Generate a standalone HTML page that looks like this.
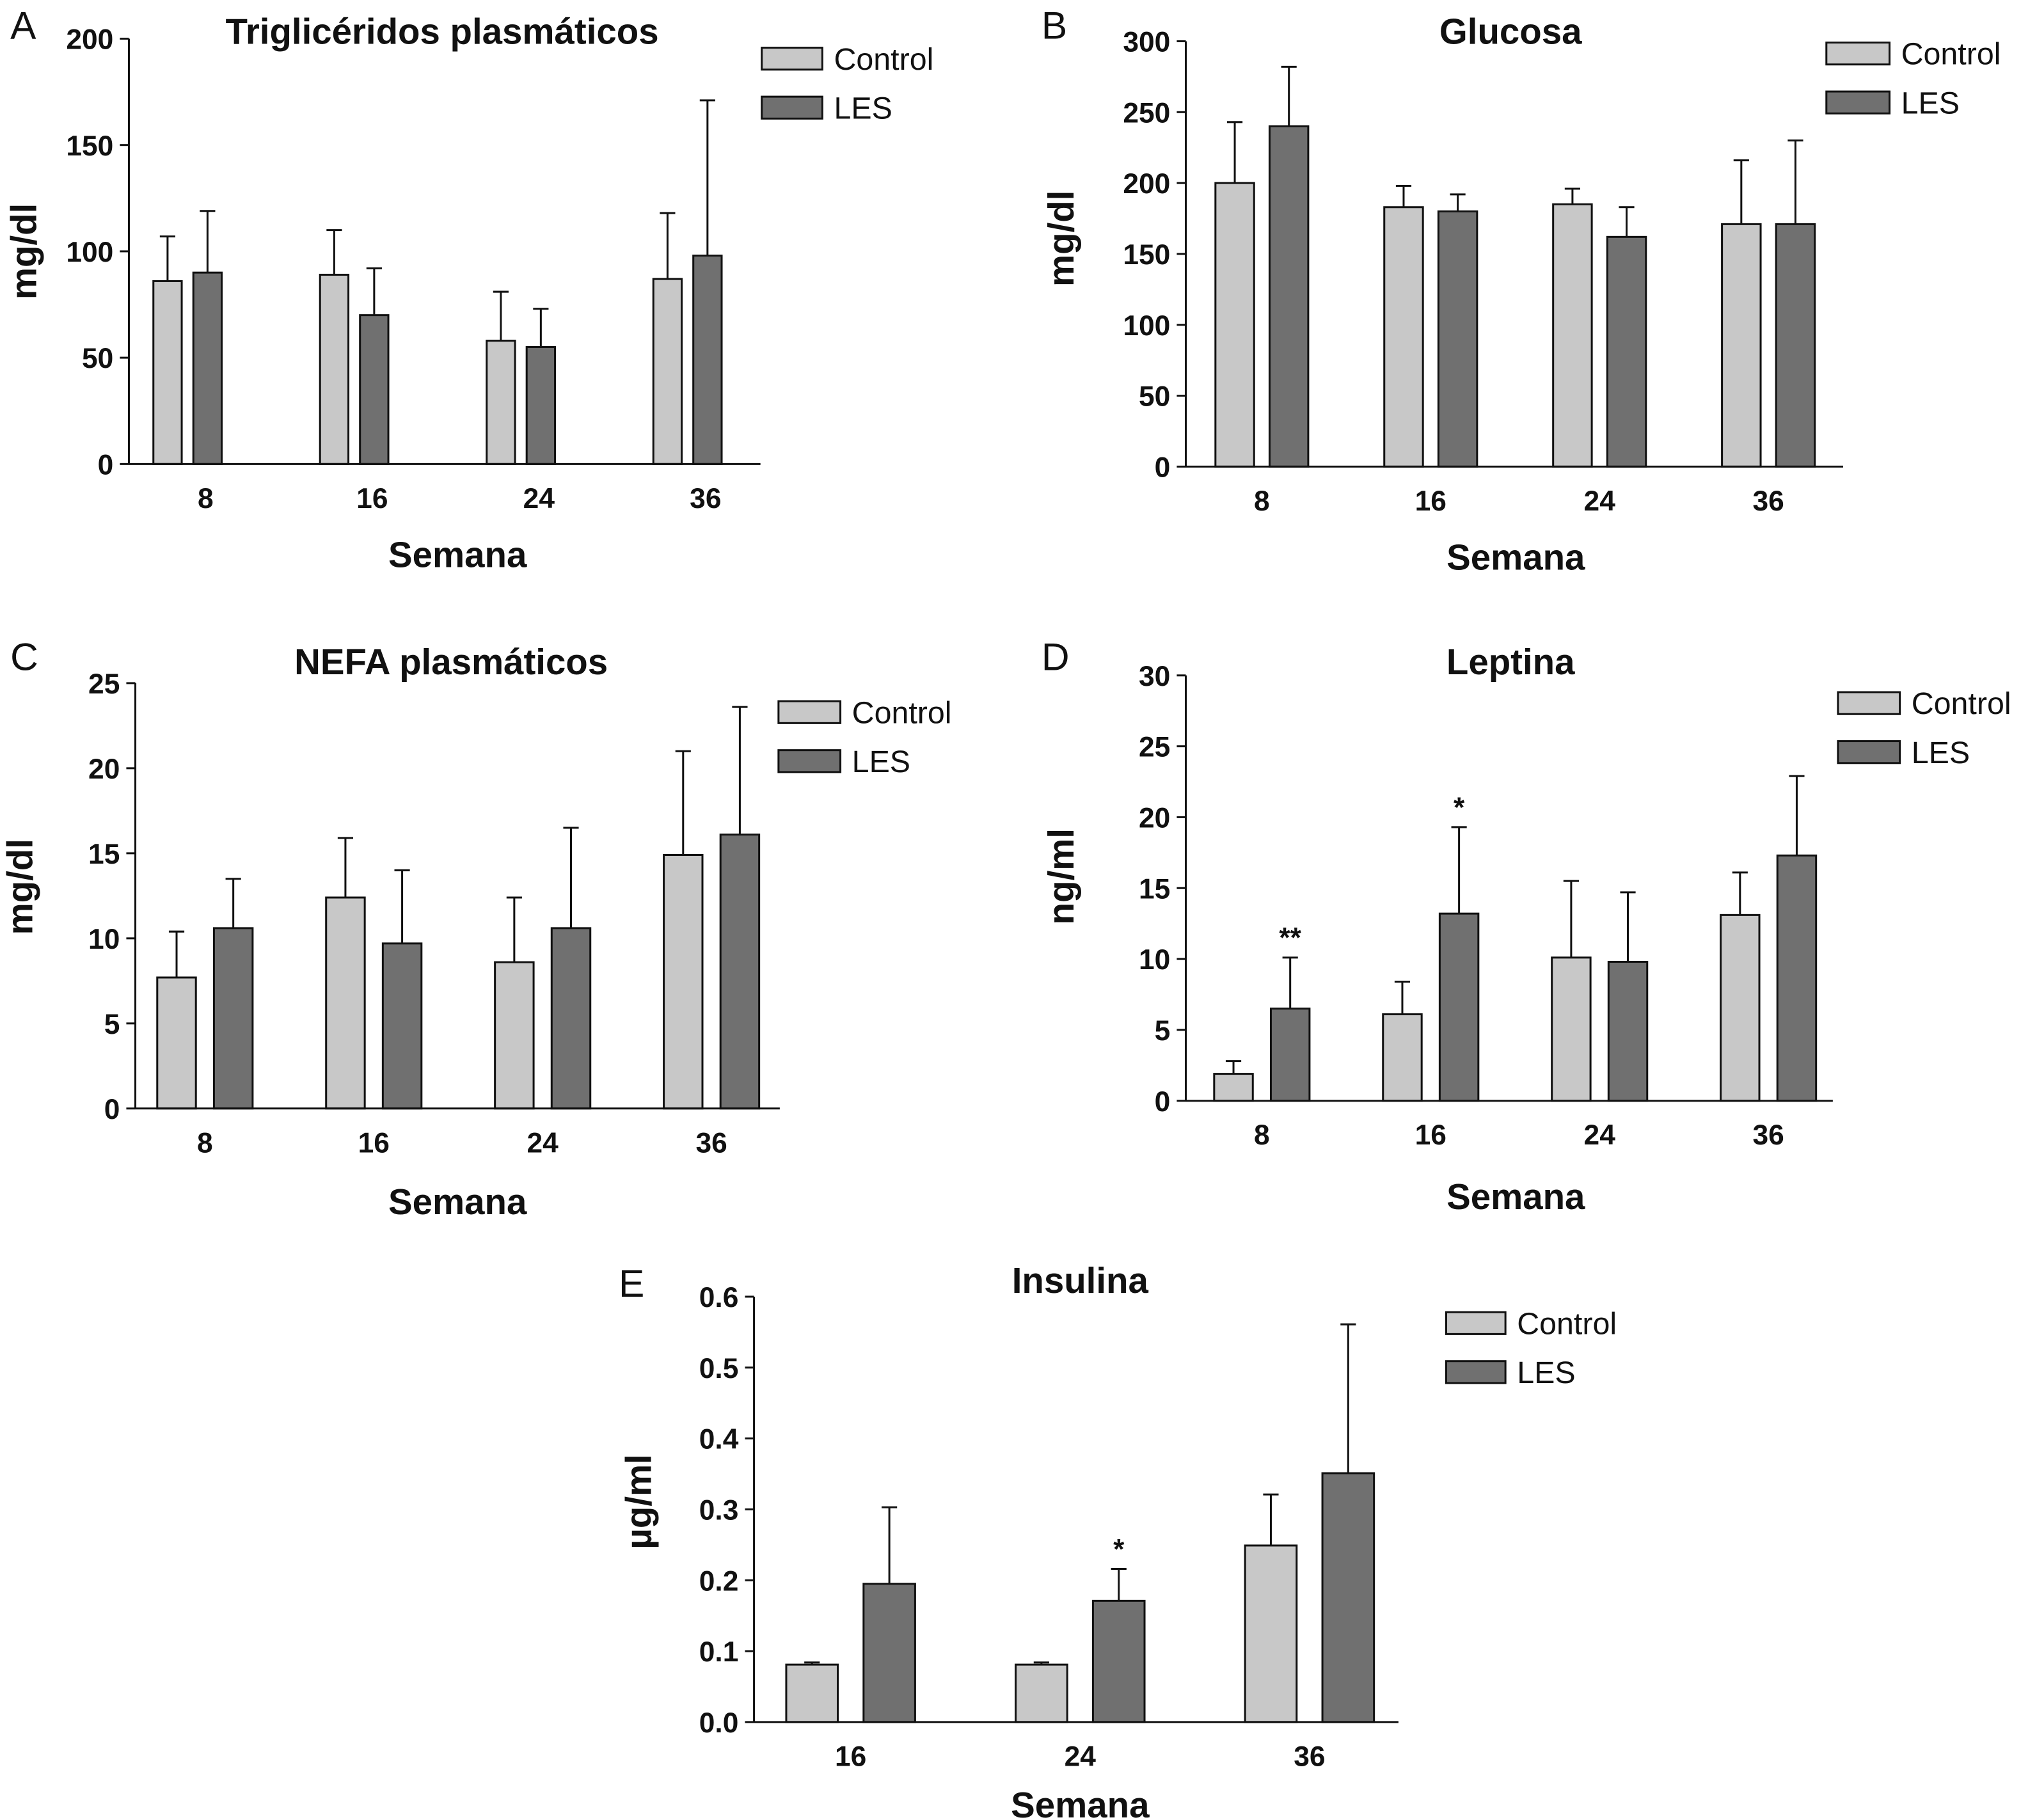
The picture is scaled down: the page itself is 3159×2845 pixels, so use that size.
<!DOCTYPE html>
<html><head><meta charset="utf-8"><style>
html,body{margin:0;padding:0;background:#fff}
svg{display:block}
text{font-family:"Liberation Sans",Arial,sans-serif;fill:#111}
</style></head><body>
<svg id="fig" width="3159" height="2845" viewBox="0 0 1568 1412" preserveAspectRatio="none" xmlns="http://www.w3.org/2000/svg"></svg>
<script>
// Panel A data
const aCategories = ["8","16","24","36"];
const aControl = [86, 89, 58, 87];
const aControlErr = [21, 21, 23, 31];
const aLes = [90, 70, 55, 98];
const aLesErr = [29, 22, 18, 73];
const aTicks = [0,50,100,150,200];
// Panel B data
const bCategories = ["8","16","24","36"];
const bControl = [200, 183, 185, 171];
const bControlErr = [43, 15, 11, 45];
const bLes = [240, 180, 162, 171];
const bLesErr = [42, 12, 21, 59];
const bTicks = [0,50,100,150,200,250,300];
// Panel C data
const cCategories = ["8","16","24","36"];
const cControl = [7.7, 12.4, 8.6, 14.9];
const cControlErr = [2.7, 3.5, 3.8, 6.1];
const cLes = [10.6, 9.7, 10.6, 16.1];
const cLesErr = [2.9, 4.3, 5.9, 7.5];
const cTicks = [0,5,10,15,20,25];
// Panel D data
const dCategories = ["8","16","24","36"];
const dControl = [1.9, 6.1, 10.1, 13.1];
const dControlErr = [0.9, 2.3, 5.4, 3.0];
const dLes = [6.5, 13.2, 9.8, 17.3];
const dLesErr = [3.6, 6.1, 4.9, 5.6];
const dStars = ["**","*","",""];
const dTicks = [0,5,10,15,20,25,30];
// Panel E data
const eCategories = ["16","24","36"];
const eControl = [0.081, 0.081, 0.249];
const eControlErr = [0.003, 0.003, 0.072];
const eLes = [0.195, 0.171, 0.351];
const eLesErr = [0.108, 0.045, 0.21];
const eStars = ["","*",""];
const eTicks = [0,0.1,0.2,0.3,0.4,0.5,0.6];

const NS="http://www.w3.org/2000/svg";
const svg=document.getElementById('fig');
function mk(tag,attrs,parent){const e=document.createElementNS(NS,tag);for(const k in attrs)e.setAttribute(k,attrs[k]);(parent||svg).appendChild(e);return e;}
function txt(s,x,y,size,weight,anchor,parent,rot){const t=mk('text',{x:x,y:y,'font-size':size,'font-weight':weight,'text-anchor':anchor||'middle'},parent);if(rot)t.setAttribute('transform','rotate(-90 '+x+' '+y+')');t.textContent=s;return t;}

function panel(o){
  const g=mk('g',{});
  
  
  const ymax=o.ticks[o.ticks.length-1];
  const Y=v=>o.y0-(v/ymax)*(o.y0-o.yTop);
  const X=i=>o.c0+i*o.step;
  o.cats.forEach((c,i)=>{
    [[o.ctrl,o.ctrlErr,'#c8c8c8',-1,'control'],[o.les,o.lesErr,'#707070',1,'les']].forEach(s=>{
      const v=s[0][i],e=s[1][i];
      const cx=X(i)+s[3]*o.off;
      const x=cx-o.bw/2, yt=Y(v);
      const ln=mk('line',{x1:cx,x2:cx,y1:yt,y2:Y(v+e),stroke:'#111','stroke-width':1.5},g);
      
      
      const cap=mk('line',{x1:cx-6,x2:cx+6,y1:Y(v+e),y2:Y(v+e),stroke:'#111','stroke-width':1.5},g);
      
      
      const r=mk('rect',{x:x,y:yt,width:o.bw,height:o.y0-yt,fill:s[2],stroke:'#111','stroke-width':1.5},g);
      
      
    });
    if(o.stars&&o.stars[i]){
      const st=txt(o.stars[i],X(i)+o.off,Y(o.les[i]+o.lesErr[i])-8,22,'bold','middle',g);
      
      
    }
    const tl=txt(c,X(i)+(o.lo||0),o.y0+34,22,'bold','middle',g);
    
    
  });
  const ya=mk('line',{x1:o.x0,x2:o.x0,y1:o.yTop,y2:o.y0,stroke:'#111','stroke-width':1.5},g);
  
  
  const xa=mk('line',{x1:o.x0,x2:o.x1,y1:o.y0,y2:o.y0,stroke:'#111','stroke-width':1.5},g);
  
  
  o.ticks.forEach(t=>{
    mk('line',{x1:o.x0-7,x2:o.x0,y1:Y(t),y2:Y(t),stroke:'#111','stroke-width':1.5},g);
    const l=txt(o.fmt?t.toFixed(1):String(t),o.x0-12,Y(t)+8,22,'bold','end',g);
    
    
  });
  const ti=txt(o.title,o.tx,o.ty,28,'bold','middle',g);
  
  
  const xt=txt('Semana',o.sx,o.sy,28,'bold','middle',g);
  
  
  const yt=txt(o.ylab,o.lx,o.ly,28,'bold','middle',g,true);
  
  
  const pl=txt(o.id.toUpperCase(),o.px,o.py,30,'normal','start',g);
  
  
  [['Control','#c8c8c8',0],['LES','#707070',1]].forEach(s=>{
    const lg=mk('g',{},g);
    
    
    mk('rect',{x:o.gx,y:o.gy+s[2]*38,width:o.gw,height:17,fill:s[1],stroke:'#111','stroke-width':1.5},lg);
    txt(s[0],o.gx+o.gw+9,o.gy+s[2]*38+17,24,'normal','start',lg);
  });
}

panel({id:'a',cats:aCategories,ctrl:aControl,ctrlErr:aControlErr,les:aLes,lesErr:aLesErr,ticks:aTicks,
 x0:100,x1:590,y0:360,yTop:30,c0:145.5,step:129.3,off:15.5,bw:22,lo:14,
 title:'Triglicéridos plasmáticos',tx:343,ty:34,sx:355,sy:440,ylab:'mg/dl',lx:28,ly:195,px:8,py:30,gx:591,gy:37,gw:47});
panel({id:'b',cats:bCategories,ctrl:bControl,ctrlErr:bControlErr,les:bLes,lesErr:bLesErr,ticks:bTicks,
 x0:920,x1:1430,y0:362,yTop:32,c0:979,step:131,off:21,bw:30,
 title:'Glucosa',tx:1172,ty:34,sx:1176,sy:442,ylab:'mg/dl',lx:833,ly:185,px:808,py:30,gx:1417,gy:33,gw:49});
panel({id:'c',cats:cCategories,ctrl:cControl,ctrlErr:cControlErr,les:cLes,lesErr:cLesErr,ticks:cTicks,
 x0:105,x1:605,y0:860,yTop:530,c0:159,step:131,off:22,bw:30,
 title:'NEFA plasmáticos',tx:350,ty:523,sx:355,sy:942,ylab:'mg/dl',lx:25,ly:688,px:8,py:520,gx:604,gy:544,gw:48});
panel({id:'d',cats:dCategories,ctrl:dControl,ctrlErr:dControlErr,les:dLes,lesErr:dLesErr,ticks:dTicks,stars:dStars,
 x0:920,x1:1422,y0:854,yTop:524,c0:979,step:131,off:22,bw:30,
 title:'Leptina',tx:1172,ty:523,sx:1176,sy:938,ylab:'ng/ml',lx:833,ly:680,px:808,py:520,gx:1426,gy:537,gw:48});
panel({id:'e',cats:eCategories,ctrl:eControl,ctrlErr:eControlErr,les:eLes,lesErr:eLesErr,ticks:eTicks,stars:eStars,fmt:true,
 x0:585,x1:1085,y0:1336,yTop:1006,c0:660,step:178,off:30,bw:40,
 title:'Insulina',tx:838,ty:1003,sx:838,sy:1410,ylab:'µg/ml',lx:505,ly:1165,px:480,py:1006,gx:1122,gy:1018,gw:46});
</script>
</body></html>
